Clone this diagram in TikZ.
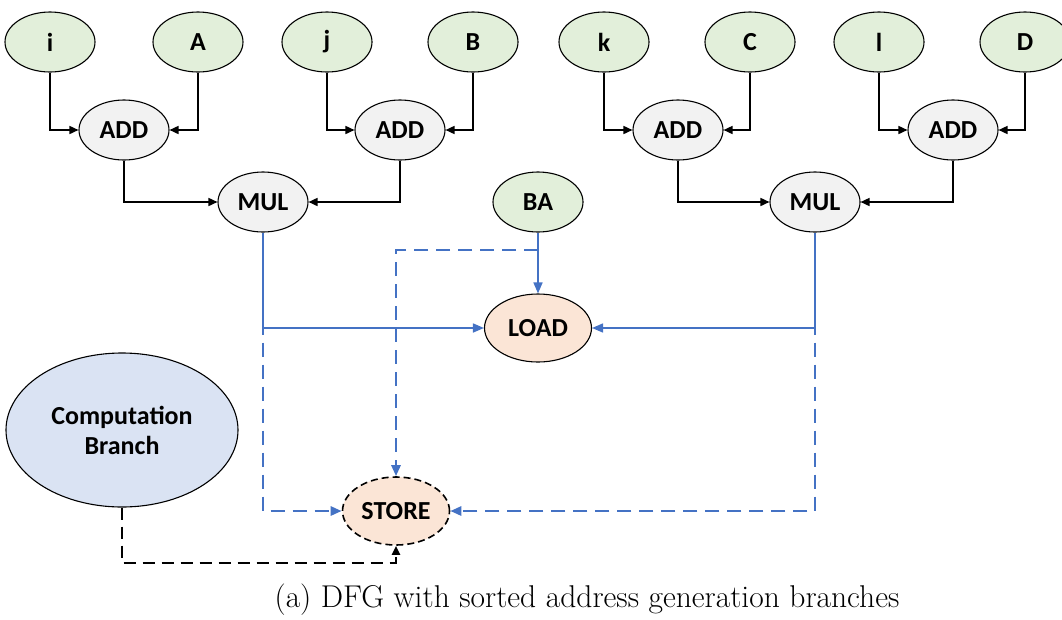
\documentclass[tikz,border=0pt]{standalone}
\usepackage{fontspec}
\setsansfont{Carlito}
\usetikzlibrary{shapes.geometric, arrows.meta}
\definecolor{inputgreen}{HTML}{E2EFDA}
\definecolor{opgray}{HTML}{F2F2F2}
\definecolor{memorange}{HTML}{FBE5D6}
\definecolor{branchblue}{HTML}{DAE3F3}
\definecolor{linkblue}{HTML}{4472C4}
\tikzset{
	dfgnode/.style={ellipse, draw=black, line width=1.1pt, inner sep=0pt, minimum width=90pt, minimum height=60pt, align=center, font=\sffamily\bfseries\fontsize{26}{30}\selectfont},
	inputnode/.style={dfgnode, fill=inputgreen},
	opnode/.style={dfgnode, fill=opgray},
	memnode/.style={dfgnode, fill=memorange, minimum width=107pt, minimum height=68pt},
	blkarrow/.style={line width=1.6pt, -{Triangle[length=9pt, width=8pt]}},
	blkdash/.style={blkarrow, line width=2pt, dash pattern=on 12pt off 7pt},
	bluearrow/.style={linkblue, line width=1.6pt, -{Triangle[length=11pt, width=9pt]}},
	bluedash/.style={bluearrow, line width=2.6pt, dash pattern=on 14pt off 8pt}
}
\begin{document}
\begin{tikzpicture}[x=1pt, y=-1pt]
	\useasboundingbox (0,0) rectangle (1062,619);
	% Inputs
	\node [inputnode] (i) at (50,42) {i};
	\node [inputnode] (A) at (198,42) {A};
	\node [inputnode] (j) at (327,42) {j};
	\node [inputnode] (B) at (473,42) {B};
	\node [inputnode] (k) at (604,42) {k};
	\node [inputnode] (C) at (750,42) {C};
	\node [inputnode] (l) at (879,42) {l};
	\node [inputnode] (D) at (1025,42) {D};
	\node [inputnode] (ba) at (538,202) {BA};
	
	% Operations
	\node [opnode] (add1) at (124,130) {ADD};
	\node [opnode] (add2) at (400,130) {ADD};
	\node [opnode] (add3) at (678,130) {ADD};
	\node [opnode] (add4) at (953,130) {ADD};
	\node [opnode] (mul1) at (263,202) {MUL};
	\node [opnode] (mul2) at (815,202) {MUL};
	
	% Memory
	\node [memnode] (load) at (538,328) {LOAD};
	\node [memnode, dashed, line width=1.6pt, dash pattern=on 7pt off 4pt] (store) at (396,511) {STORE};
	\node [dfgnode, fill=branchblue, minimum width=232pt, minimum height=154pt] (comp) at (122,430) {Computation\\Branch};
	
	% Address generation
	\draw [blkarrow] (i.south) |- (add1.west);
	\draw [blkarrow] (A.south) |- (add1.east);
	\draw [blkarrow] (j.south) |- (add2.west);
	\draw [blkarrow] (B.south) |- (add2.east);
	\draw [blkarrow] (k.south) |- (add3.west);
	\draw [blkarrow] (C.south) |- (add3.east);
	\draw [blkarrow] (l.south) |- (add4.west);
	\draw [blkarrow] (D.south) |- (add4.east);
	\draw [blkarrow] (add1.south) |- (mul1.west);
	\draw [blkarrow] (add2.south) |- (mul1.east);
	\draw [blkarrow] (add3.south) |- (mul2.west);
	\draw [blkarrow] (add4.south) |- (mul2.east);
	
	% Load / store links
	\coordinate (bajoin) at (538,250);
	\coordinate (cbbase) at (0,563);
	\draw [bluedash] (mul1.south) |- (store.west);
	\draw [bluedash] (mul2.south) |- (store.east);
	\draw [bluedash] (bajoin) -| (store.north);
	\draw [bluearrow] (mul1.south) |- (load.west);
	\draw [bluearrow] (mul2.south) |- (load.east);
	\draw [bluearrow] (ba) -- (load);
	\draw [blkdash] (comp.south) -- (comp.south |- cbbase) -| (store.south);
	
	% Caption
	\node [font=\rmfamily\fontsize{31.5}{36}\selectfont] (caption) at (587,600) {(a) DFG with sorted address generation branches};
\end{tikzpicture}
\end{document}
